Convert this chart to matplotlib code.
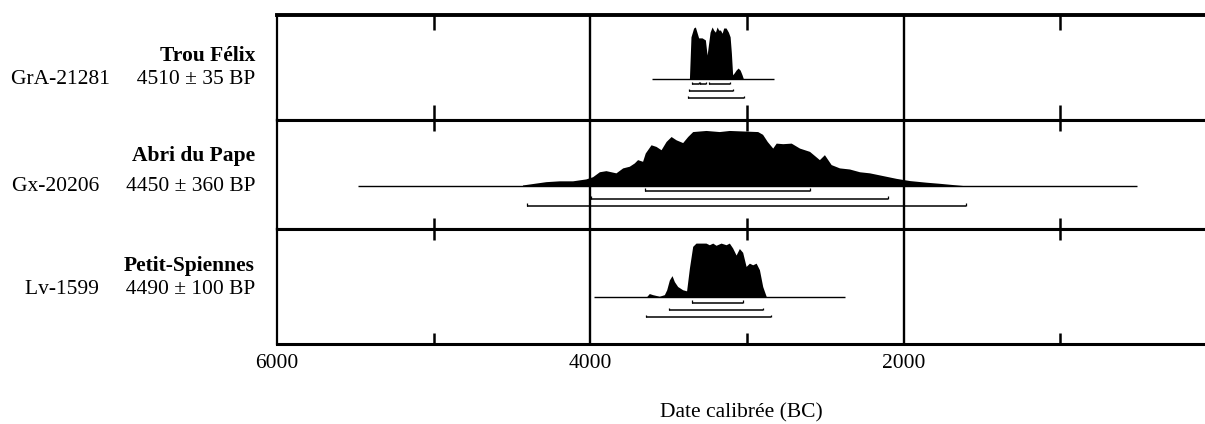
import matplotlib
matplotlib.use("Agg")
import matplotlib.pyplot as plt
from matplotlib.ticker import FixedLocator

plt.rcParams['font.family'] = ['Liberation Serif', 'DejaVu Serif']

sites = ["Trou Félix", "Abri du Pape", "Petit-Spiennes"]
lab_codes = ["GrA-21281", "Gx-20206", "Lv-1599"]
bp_dates = ["4510 ± 35 BP", "4450 ± 360 BP", "4490 ± 100 BP"]

# distributions de probabilité (années BC, probabilité relative)
felix_years = [3367, 3357, 3340, 3329, 3321, 3308, 3286, 3265, 3254, 3244, 3235,
               3222, 3212, 3201, 3190, 3180, 3169, 3158, 3148, 3133, 3118, 3107,
               3099, 3091, 3080, 3069, 3056, 3043, 3031, 3022]
felix_prob = [0, .81, .98, 1.0, .92, .79, .79, .75, .46, .69, .90,
              1.0, .94, .90, 1.0, .94, .94, .88, .98, .98, .90, .81,
              .50, .08, .12, .17, .21, .17, .08, 0]

pape_years = [4433, 4358, 4283, 4198, 4113, 4028, 3985, 3942, 3900, 3836, 3793,
              3751, 3719, 3698, 3666, 3649, 3612, 3580, 3548, 3516, 3484, 3452,
              3410, 3378, 3346, 3261, 3176, 3112, 2931, 2900, 2870, 2835, 2813,
              2771, 2717, 2664, 2600, 2537, 2505, 2462, 2409, 2345, 2281, 2217,
              2132, 2047, 1962, 1855, 1770, 1621]
pape_prob = [.01, .04, .07, .085, .085, .12, .16, .25, .27, .23, .32,
             .35, .41, .47, .44, .59, .74, .71, .65, .80, .89, .83,
             .78, .89, .98, 1.0, .98, 1.0, .98, .93, .80, .68, .77,
             .76, .77, .68, .62, .47, .56, .38, .32, .30, .25, .23,
             .18, .13, .09, .06, .04, 0]

spiennes_years = [3644, 3623, 3602, 3559, 3527, 3512, 3495, 3478, 3463, 3442, 3410,
                  3385, 3367, 3346, 3325, 3261, 3240, 3218, 3197, 3165, 3133, 3112,
                  3091, 3069, 3048, 3027, 3005, 2984, 2963, 2941, 2920, 2899, 2877,
                  2870]
spiennes_prob = [0, .07, .05, .02, .05, .14, .32, .40, .29, .20, .14,
                 .12, .54, .94, 1.0, 1.0, .97, 1.0, .96, 1.0, .97, 1.0,
                 .91, .78, .90, .83, .57, .63, .60, .63, .51, .20, .02,
                 0]

# étendue de la ligne de base
plot_spans = [(3605, 2830), (5480, 510), (3975, 2375)]

# intervalles (68.2 %, 95.4 %, 99.7 %)
felix_ranges = [[(3350, 3308), (3299, 3261), (3244, 3105)],
                [(3367, 3091)],
                [(3378, 3020)]]
pape_ranges = [[(3649, 2600)], [(3996, 2096)], [(4405, 1600)]]
spiennes_ranges = [[(3350, 3027)], [(3499, 2899)], [(3644, 2845)]]

all_years = [felix_years, pape_years, spiennes_years]
all_prob = [felix_prob, pape_prob, spiennes_prob]
all_ranges = [felix_ranges, pape_ranges, spiennes_ranges]

range_levels = [-0.1, -0.24, -0.37]
ylims = [(-0.79, 1.23), (-0.79, 1.19), (-0.86, 1.26)]

fig = plt.figure(figsize=(12.05, 4.24), dpi=100)
gs = fig.add_gridspec(3, 1, height_ratios=[105, 109, 115], hspace=0,
                      left=0.2299, right=1.0, top=0.9646, bottom=0.1887)

for i in range(3):
    ax = fig.add_subplot(gs[i])
    ax.fill_between(all_years[i], 0, all_prob[i], color="black", lw=0, zorder=3)
    ax.hlines(0, plot_spans[i][0], plot_spans[i][1], color="black", lw=1.0, zorder=3)
    for level, segs in zip(range_levels, all_ranges[i]):
        for a, b in segs:
            ax.hlines(level, a, b, color="black", lw=1.1)
            ax.vlines([a, b], level, level + 0.05, color="black", lw=0.9)
    for x in (4000, 2000):
        ax.axvline(x, color="black", lw=1.7, zorder=2)

    ax.set_xlim(6000, 75)
    ax.set_ylim(*ylims[i])
    ax.set_yticks([])
    ax.xaxis.set_major_locator(FixedLocator([6000, 4000, 2000]))
    ax.xaxis.set_minor_locator(FixedLocator([5000, 3000, 1000]))
    ax.tick_params(which="major", length=0, labelsize=15.5, pad=7)
    ax.tick_params(which="minor", direction="in", length=8, width=1.8,
                   top=True, bottom=True)
    ax.tick_params(labelbottom=(i == 2))

    ax.spines["right"].set_visible(False)
    ax.spines["left"].set_linewidth(1.6)
    ax.spines["top"].set_linewidth(2.2)
    ax.spines["bottom"].set_linewidth(2.2)
    if i == 0:
        ax.spines["top"].set_linewidth(2.8)
        ax.tick_params(which="minor", length=11)

# étiquettes à gauche
name_base = [61, 161, 271]
code_base = [84, 191, 294]
for i in range(3):
    fig.text(255 / 1205, 1 - name_base[i] / 424, sites[i], ha="right",
             va="baseline", fontsize=15.5, fontweight="bold")
    fig.text(255 / 1205, 1 - code_base[i] / 424,
             lab_codes[i] + "     " + bp_dates[i], ha="right",
             va="baseline", fontsize=15.5)

fig.text((0.2299 + 1.0) / 2, 1 - 413 / 424, "Date calibrée (BC)",
         ha="center", va="center", fontsize=15.5)

fig.savefig("out.png", dpi=100)
